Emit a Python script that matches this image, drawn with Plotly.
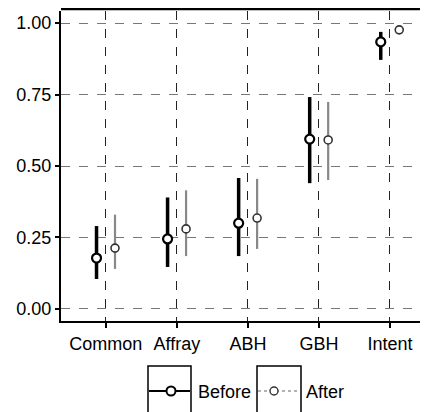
import plotly.graph_objects as go

categories = ["Common", "Affray", "ABH", "GBH", "Intent"]
before_mean = [0.178, 0.245, 0.300, 0.594, 0.934]
before_lo = [0.105, 0.147, 0.185, 0.440, 0.871]
before_hi = [0.290, 0.390, 0.458, 0.741, 0.969]
after_mean = [0.213, 0.280, 0.318, 0.591, 0.976]
after_lo = [0.140, 0.185, 0.210, 0.451, 0.965]
after_hi = [0.330, 0.415, 0.455, 0.724, 0.990]
y_ticks = [0.0, 0.25, 0.5, 0.75, 1.0]
y_ticktext = ["0.00", "0.25", "0.50", "0.75", "1.00"]
legend_names = ["Before", "After"]

dodge = 0.13
xb = [i + 1 - dodge for i in range(len(categories))]
xa = [i + 1 + dodge for i in range(len(categories))]

FONT = "Liberation Sans, Arial, sans-serif"

fig = go.Figure()
fig.add_trace(go.Scatter(
    x=xb, y=before_mean, mode="markers", name=legend_names[0], showlegend=False,
    marker=dict(symbol="circle", size=9, color="white", line=dict(color="black", width=2.2)),
    error_y=dict(type="data", symmetric=False,
                 array=[h - m for h, m in zip(before_hi, before_mean)],
                 arrayminus=[m - l for m, l in zip(before_mean, before_lo)],
                 color="black", thickness=3.5, width=0),
))
fig.add_trace(go.Scatter(
    x=xa, y=after_mean, mode="markers", name=legend_names[1], showlegend=False,
    marker=dict(symbol="circle", size=8, color="white", line=dict(color="#333333", width=1.6)),
    error_y=dict(type="data", symmetric=False,
                 array=[h - m for h, m in zip(after_hi, after_mean)],
                 arrayminus=[m - l for m, l in zip(after_mean, after_lo)],
                 color="#888888", thickness=2.2, width=0),
))

# ---- hand-built legend (keys in boxes) ----
# plot area in page pixels: x 61..428, y 11..321 (page has an 8px body margin)
PX0, PW, PY1, PH = 61, 367, 321, 310
def px(x):
    return (x - PX0) / PW
def py(y):
    return (PY1 - y) / PH

keys = [
    dict(box=(148, 191), cx=171, r=4.5, lc="black", lw=2, dash="solid",
         mc="black", mw=2, text_x=196),
    dict(box=(257, 301), cx=274, r=4, lc="#666666", lw=1.2, dash="dot",
         mc="#333333", mw=1.4, text_x=304),
]
ly = 391
for k, name in zip(keys, legend_names):
    x0, x1 = k["box"]
    fig.add_shape(type="rect", xref="paper", yref="paper",
                  x0=px(x0), x1=px(x1), y0=py(366), y1=py(418),
                  line=dict(color="black", width=1.5), fillcolor="rgba(0,0,0,0)")
    fig.add_shape(type="line", xref="paper", yref="paper",
                  x0=px(x0 + 1), x1=px(x1 - 1), y0=py(ly), y1=py(ly),
                  line=dict(color=k["lc"], width=k["lw"], dash=k["dash"]))
    fig.add_shape(type="circle", xref="paper", yref="paper",
                  x0=px(k["cx"] - k["r"]), x1=px(k["cx"] + k["r"]),
                  y0=py(ly + k["r"]), y1=py(ly - k["r"]),
                  line=dict(color=k["mc"], width=k["mw"]), fillcolor="white")
    fig.add_annotation(xref="paper", yref="paper", x=px(k["text_x"]), y=py(ly + 1),
                       text=name, showarrow=False, xanchor="left", yanchor="middle",
                       font=dict(family=FONT, size=18, color="black"))

# top border of the panel
fig.add_shape(type="line", xref="paper", yref="paper", x0=0, x1=1, y0=py(9), y1=py(9),
              line=dict(color="black", width=2.5), layer="above")

fig.update_layout(
    width=420, height=404,
    margin=dict(l=53, r=0, t=3, b=91),
    paper_bgcolor="white", plot_bgcolor="white",
    font=dict(family=FONT, size=18, color="black"),
    showlegend=False,
    xaxis=dict(
        range=[0.37, 5.535], tickmode="array",
        tickvals=[i + 1 for i in range(len(categories))], ticktext=categories,
        showgrid=True, gridcolor="#222222", gridwidth=1.2, griddash="dash",
        showline=True, linecolor="black", linewidth=2,
        ticks="outside", ticklen=5, tickwidth=1.5, tickcolor="black",
        zeroline=False, tickfont=dict(size=18),
    ),
    yaxis=dict(
        range=[-0.042, 1.042], tickmode="array", tickvals=y_ticks, ticktext=y_ticktext,
        showgrid=True, gridcolor="#777777", gridwidth=1, griddash="dash",
        showline=True, linecolor="black", linewidth=2,
        ticks="outside", ticklen=4, tickwidth=1.5, tickcolor="black",
        zeroline=False, tickfont=dict(size=18),
    ),
)

fig.write_html("out.html")
